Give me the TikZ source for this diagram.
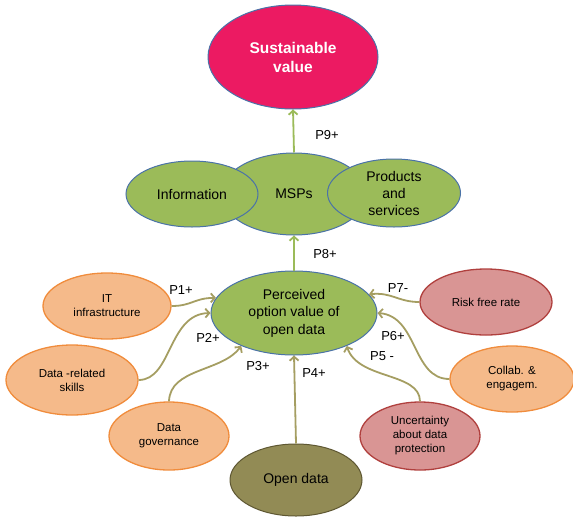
\documentclass[tikz,border=0pt]{standalone}
\usepackage{fontspec}
\setmainfont{Liberation Sans}
\usetikzlibrary{shapes.geometric,arrows.meta}
\definecolor{orgfill}{HTML}{F5BA8A}
\definecolor{orgline}{HTML}{F08C3C}
\definecolor{redfill}{HTML}{D99594}
\definecolor{redline}{HTML}{B0403E}
\definecolor{grnfill}{HTML}{9BBB59}
\definecolor{blueline}{HTML}{4A72A8}
\definecolor{susfill}{HTML}{EC1A62}
\definecolor{olvfill}{HTML}{928B55}
\definecolor{olvline}{HTML}{5E5732}
\definecolor{arrcol}{HTML}{A59E62}
\tikzset{
  ell/.style={ellipse, inner sep=0pt, align=center, line width=1.3pt},
  orgell/.style={ell, fill=orgfill, draw=orgline, font=\fontsize{11.5}{14}\selectfont},
  redell/.style={ell, fill=redfill, draw=redline, font=\fontsize{11.5}{14}\selectfont},
  grnell/.style={ell, fill=grnfill, draw=blueline, line width=1pt, font=\fontsize{14}{17}\selectfont},
  arr/.style={draw=arrcol, line width=1.8pt, -{Straight Barb[length=4pt,width=9pt]}},
  garr/.style={draw=grnfill, line width=1.8pt, -{Straight Barb[length=4pt,width=9pt]}},
  lbl/.style={font=\fontsize{13}{15}\selectfont, inner sep=0pt}
}
\begin{document}
\begin{tikzpicture}[x=1pt,y=-1pt]
\useasboundingbox (0,0) rectangle (573,520);
% top
\node[ell, fill=susfill, draw=blueline, line width=1pt, minimum width=170pt, minimum height=104pt, text=white, font=\bfseries\fontsize{15.5}{19}\selectfont] (sus) at (293,57) {Sustainable\\value};
\node[grnell, minimum width=146pt, minimum height=82pt] (msp) at (294,194) {MSPs};
\node[grnell, minimum width=132pt, minimum height=66pt] (info) at (192,194) {Information};
\node[grnell, minimum width=133pt, minimum height=68pt] (prod) at (394,193) {Products\\and\\services};
\node[grnell, minimum width=166pt, minimum height=84pt, font=\fontsize{14}{17.5}\selectfont] (perc) at (294,313) {Perceived\\option value of\\open data};
\node[ell, fill=olvfill, draw=olvline, line width=1pt, minimum width=132pt, minimum height=72pt, font=\fontsize{14}{17}\selectfont] (open) at (296,480) {Open data};
% left
\node[orgell, minimum width=128pt, minimum height=66pt] (it) at (107,306) {IT\\infrastructure};
\node[orgell, minimum width=132pt, minimum height=70pt] (drs) at (72,380) {Data -related\\skills};
\node[orgell, minimum width=120pt, minimum height=68pt] (dg) at (169,436) {Data\\governance};
% right
\node[redell, minimum width=132pt, minimum height=66pt] (risk) at (486,302) {Risk free rate};
\node[orgell, minimum width=124pt, minimum height=66pt] (col) at (512,379) {Collab. \&\\engagem.};
\node[redell, minimum width=120pt, minimum height=68pt] (unc) at (420,436) {Uncertainty\\about data\\protection};
% arrows
\draw[garr] (msp.north) -- (sus.south);
\draw[garr] (perc.north) -- (msp.south);
\draw[arr] (open.north) -- (perc.south);
\draw[arr] (it.east) .. controls (192,306) and (194,298) .. (perc.169);
\draw[arr] (drs.east) .. controls (172,380) and (168,314) .. (perc.180);
\draw[arr] (dg.north) .. controls (170,368) and (222,372) .. (perc.212);
\draw[arr] (unc.north) .. controls (420,372) and (358,380) .. (perc.328);
\draw[arr] (col.west) .. controls (412,379) and (418,316) .. (perc.0);
\draw[arr] (risk.west) .. controls (398,302) and (392,292) .. (perc.14);
% labels
\node[lbl] (l9) at (327,135) {P9+};
\node[lbl] (l8) at (325,254) {P8+};
\node[lbl] (l1) at (181,290) {P1+};
\node[lbl] (l2) at (208,338) {P2+};
\node[lbl] (l3) at (258,366) {P3+};
\node[lbl] (l4) at (314,373) {P4+};
\node[lbl] (l5) at (382,356) {P5 -};
\node[lbl] (l6) at (393,336) {P6+};
\node[lbl] (l7) at (398,288) {P7-};
\end{tikzpicture}
\end{document}
